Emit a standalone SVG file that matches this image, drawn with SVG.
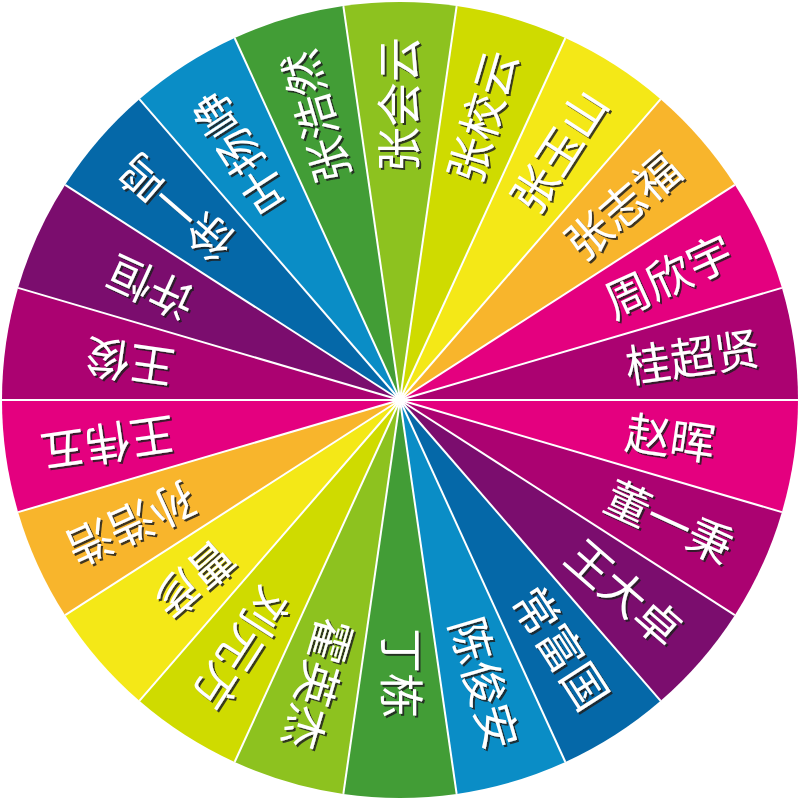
<svg xmlns="http://www.w3.org/2000/svg" width="800" height="800" viewBox="0 0 800 800">
<defs>
<filter id="sh" x="-20%" y="-20%" width="140%" height="140%">
<feDropShadow dx="2" dy="2" stdDeviation="0.6" flood-color="#1a1a1a" flood-opacity="0.85"/>
</filter>
</defs>
<style>
.lbl{font-family:"Noto Sans CJK SC","Noto Sans CJK JP",sans-serif;font-size:45px;fill:#fff}
.sep line{stroke:#fff;stroke-width:2}
.c0{fill:#8DC21F}.c1{fill:#CFDB00}.c2{fill:#F4E817}.c3{fill:#F8B52C}.c4{fill:#E4007F}.c5{fill:#AB0271}.c6{fill:#7B0D6E}.c7{fill:#0568A8}.c8{fill:#0A8DC6}.c9{fill:#429D36}
</style>
<rect width="800" height="800" fill="#fff"/>
<g id="wheel">
<g id="seg0"><path class="c0" d="M400,400 L343.36,6.05 A398,398 0 0 1 456.64,6.05 Z"/><g filter="url(#sh)"><text class="lbl" x="628" y="416" transform="rotate(-90 400 400)">张会云</text></g></g>
<g id="seg1"><path class="c1" d="M400,400 L456.64,6.05 A398,398 0 0 1 565.34,37.97 Z"/><g filter="url(#sh)"><text class="lbl" x="628" y="416" transform="rotate(-73.636 400 400)">张校云</text></g></g>
<g id="seg2"><path class="c2" d="M400,400 L565.34,37.97 A398,398 0 0 1 660.63,99.21 Z"/><g filter="url(#sh)"><text class="lbl" x="628" y="416" transform="rotate(-57.273 400 400)">张玉山</text></g></g>
<g id="seg3"><path class="c3" d="M400,400 L660.63,99.21 A398,398 0 0 1 734.82,184.83 Z"/><g filter="url(#sh)"><text class="lbl" x="628" y="416" transform="rotate(-40.909 400 400)">张志福</text></g></g>
<g id="seg4"><path class="c4" d="M400,400 L734.82,184.83 A398,398 0 0 1 781.88,287.87 Z"/><g filter="url(#sh)"><text class="lbl" x="628" y="416" transform="rotate(-24.545 400 400)">周欣宇</text></g></g>
<g id="seg5"><path class="c5" d="M400,400 L781.88,287.87 A398,398 0 0 1 798,400 Z"/><g filter="url(#sh)"><text class="lbl" x="628" y="416" transform="rotate(-8.182 400 400)">桂超贤</text></g></g>
<g id="seg6"><path class="c4" d="M400,400 L798,400 A398,398 0 0 1 781.88,512.13 Z"/><g filter="url(#sh)"><text class="lbl" x="628" y="416" transform="rotate(8.182 400 400)">赵晖</text></g></g>
<g id="seg7"><path class="c5" d="M400,400 L781.88,512.13 A398,398 0 0 1 734.82,615.17 Z"/><g filter="url(#sh)"><text class="lbl" x="628" y="416" transform="rotate(24.545 400 400)">董一秉</text></g></g>
<g id="seg8"><path class="c6" d="M400,400 L734.82,615.17 A398,398 0 0 1 660.63,700.79 Z"/><g filter="url(#sh)"><text class="lbl" x="628" y="416" transform="rotate(40.909 400 400)">王大卓</text></g></g>
<g id="seg9"><path class="c7" d="M400,400 L660.63,700.79 A398,398 0 0 1 565.34,762.03 Z"/><g filter="url(#sh)"><text class="lbl" x="628" y="416" transform="rotate(57.273 400 400)">常富国</text></g></g>
<g id="seg10"><path class="c8" d="M400,400 L565.34,762.03 A398,398 0 0 1 456.64,793.95 Z"/><g filter="url(#sh)"><text class="lbl" x="628" y="416" transform="rotate(73.636 400 400)">陈俊安</text></g></g>
<g id="seg11"><path class="c9" d="M400,400 L456.64,793.95 A398,398 0 0 1 343.36,793.95 Z"/><g filter="url(#sh)"><text class="lbl" x="628" y="416" transform="rotate(90 400 400)">丁栋</text></g></g>
<g id="seg12"><path class="c0" d="M400,400 L343.36,793.95 A398,398 0 0 1 234.66,762.03 Z"/><g filter="url(#sh)"><text class="lbl" x="628" y="416" transform="rotate(106.364 400 400)">霍英杰</text></g></g>
<g id="seg13"><path class="c1" d="M400,400 L234.66,762.03 A398,398 0 0 1 139.37,700.79 Z"/><g filter="url(#sh)"><text class="lbl" x="628" y="416" transform="rotate(122.727 400 400)">刘元方</text></g></g>
<g id="seg14"><path class="c2" d="M400,400 L139.37,700.79 A398,398 0 0 1 65.18,615.17 Z"/><g filter="url(#sh)"><text class="lbl" x="628" y="416" transform="rotate(139.091 400 400)">曹彦</text></g></g>
<g id="seg15"><path class="c3" d="M400,400 L65.18,615.17 A398,398 0 0 1 18.12,512.13 Z"/><g filter="url(#sh)"><text class="lbl" x="628" y="416" transform="rotate(155.455 400 400)">孙浩浩</text></g></g>
<g id="seg16"><path class="c4" d="M400,400 L18.12,512.13 A398,398 0 0 1 2,400 Z"/><g filter="url(#sh)"><text class="lbl" x="628" y="416" transform="rotate(171.818 400 400)">王伟五</text></g></g>
<g id="seg17"><path class="c5" d="M400,400 L2,400 A398,398 0 0 1 18.12,287.87 Z"/><g filter="url(#sh)"><text class="lbl" x="628" y="416" transform="rotate(188.182 400 400)">王俊</text></g></g>
<g id="seg18"><path class="c6" d="M400,400 L18.12,287.87 A398,398 0 0 1 65.18,184.83 Z"/><g filter="url(#sh)"><text class="lbl" x="628" y="416" transform="rotate(204.545 400 400)">许恒</text></g></g>
<g id="seg19"><path class="c7" d="M400,400 L65.18,184.83 A398,398 0 0 1 139.37,99.21 Z"/><g filter="url(#sh)"><text class="lbl" x="628" y="416" transform="rotate(220.909 400 400)">徐一鸣</text></g></g>
<g id="seg20"><path class="c8" d="M400,400 L139.37,99.21 A398,398 0 0 1 234.66,37.97 Z"/><g filter="url(#sh)"><text class="lbl" x="628" y="416" transform="rotate(237.273 400 400)">叶扬峥</text></g></g>
<g id="seg21"><path class="c9" d="M400,400 L234.66,37.97 A398,398 0 0 1 343.36,6.05 Z"/><g filter="url(#sh)"><text class="lbl" x="628" y="416" transform="rotate(253.636 400 400)">张浩然</text></g></g>
</g>
<g id="separators" class="sep">
<line x1="400" y1="400" x2="343.36" y2="6.05"/>
<line x1="400" y1="400" x2="456.64" y2="6.05"/>
<line x1="400" y1="400" x2="565.34" y2="37.97"/>
<line x1="400" y1="400" x2="660.63" y2="99.21"/>
<line x1="400" y1="400" x2="734.82" y2="184.83"/>
<line x1="400" y1="400" x2="781.88" y2="287.87"/>
<line x1="400" y1="400" x2="798" y2="400"/>
<line x1="400" y1="400" x2="781.88" y2="512.13"/>
<line x1="400" y1="400" x2="734.82" y2="615.17"/>
<line x1="400" y1="400" x2="660.63" y2="700.79"/>
<line x1="400" y1="400" x2="565.34" y2="762.03"/>
<line x1="400" y1="400" x2="456.64" y2="793.95"/>
<line x1="400" y1="400" x2="343.36" y2="793.95"/>
<line x1="400" y1="400" x2="234.66" y2="762.03"/>
<line x1="400" y1="400" x2="139.37" y2="700.79"/>
<line x1="400" y1="400" x2="65.18" y2="615.17"/>
<line x1="400" y1="400" x2="18.12" y2="512.13"/>
<line x1="400" y1="400" x2="2" y2="400"/>
<line x1="400" y1="400" x2="18.12" y2="287.87"/>
<line x1="400" y1="400" x2="65.18" y2="184.83"/>
<line x1="400" y1="400" x2="139.37" y2="99.21"/>
<line x1="400" y1="400" x2="234.66" y2="37.97"/>
</g>
</svg>
